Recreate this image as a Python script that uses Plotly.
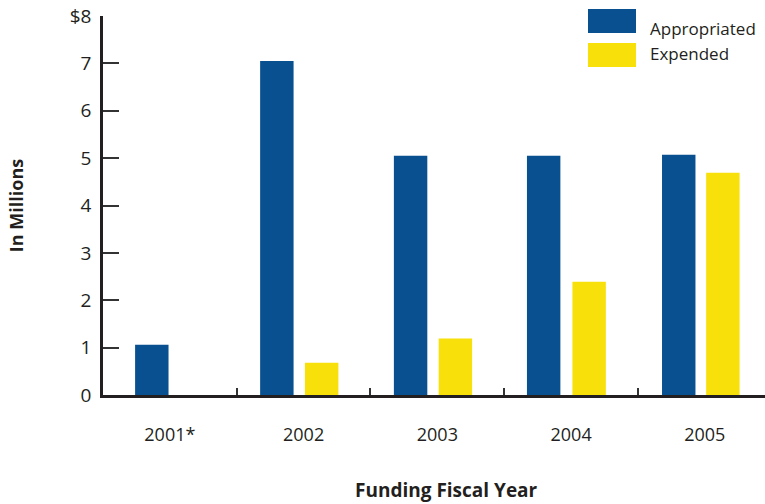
import plotly.graph_objects as go

years = ["2001*", "2002", "2003", "2004", "2005"]
appropriated = [1.06, 7.05, 5.05, 5.05, 5.07]
expended = [None, 0.68, 1.19, 2.39, 4.69]
y_tickvals = [0, 1, 2, 3, 4, 5, 6, 7, 8]
y_ticktext = ["0", "1", "2", "3", "4", "5", "6", "7", "$8"]

BLUE = "#08508F"
YELLOW = "#F8E00A"
TEXT = "#231F20"
FONT = "Open Sans"

fig = go.Figure()
# --------------------------- Appropriated ------------------------- #
fig.add_trace(
    go.Bar(
        name="Appropriated",
        x=years,
        y=appropriated,
        marker_color=BLUE,
        marker_line_width=0,
        width=0.25,
        offset=[-0.26, -0.325, -0.325, -0.33, -0.32],
    )
)
# --------------------------- Expended ------------------------- #
fig.add_trace(
    go.Bar(
        name="Expended",
        x=years,
        y=expended,
        marker_color=YELLOW,
        marker_line_width=0,
        width=0.25,
        offset=0.01,
    )
)

# -------------------------- Legend (drawn by hand) ---------------------- #
# label, colour, swatch top/bottom px, label centre px
legend_items = [("Appropriated", BLUE, 9, 33, 28), ("Expended", YELLOW, 43, 67, 54)]
shapes = []
annotations = []
for label, color, top, bottom, text_y in legend_items:
    shapes.append(dict(
        type="rect", xref="paper", yref="paper",
        x0=(588 - 103) / 662, x1=(636 - 103) / 662,
        y0=(395 - bottom) / 379, y1=(395 - top) / 379,
        fillcolor=color, line_width=0,
    ))
    annotations.append(dict(
        text=label, xref="paper", yref="paper",
        x=(648 - 103) / 662, y=(395 - text_y) / 379,
        xanchor="left", yanchor="middle", showarrow=False,
        font=dict(size=17, color=TEXT, family=FONT),
    ))

annotations.append(dict(
    text="<b>Funding Fiscal Year</b>", xref="paper", yref="paper",
    x=(446 - 103) / 662, y=(395 - 490) / 379,
    xanchor="center", yanchor="middle", showarrow=False,
    font=dict(size=19, color=TEXT, family=FONT),
))

fig.update_layout(
    width=765,
    height=504,
    margin=dict(l=103, r=0, t=16, b=109),
    paper_bgcolor="white",
    plot_bgcolor="white",
    showlegend=False,
    font=dict(family=FONT, color=TEXT, size=17),
    xaxis=dict(
        type="category",
        range=[-0.5, 4.45],
        tickson="boundaries",
        ticks="inside",
        ticklen=7,
        tickwidth=1.5,
        tickcolor="#333333",
        showline=True,
        linecolor="#231F20",
        linewidth=2.5,
        showgrid=False,
        ticklabelstandoff=22,
        tickfont=dict(size=18),
    ),
    yaxis=dict(
        range=[0, 8],
        tickvals=y_tickvals,
        ticktext=y_ticktext,
        ticks="inside",
        ticklen=16,
        tickwidth=1.5,
        tickcolor="#333333",
        showline=True,
        linecolor="#231F20",
        linewidth=2.5,
        showgrid=False,
        zeroline=False,
        ticklabelstandoff=5,
        tickfont=dict(size=19),
        title=dict(text="<b>In Millions</b>", font=dict(size=18), standoff=42),
    ),
    shapes=shapes,
    annotations=annotations,
)

# page body has a default 8px margin; drop it so the figure fills the window
fig.write_html(
    "out.html",
    config={"displayModeBar": False},
    post_script="document.body.style.margin='0';",
)
